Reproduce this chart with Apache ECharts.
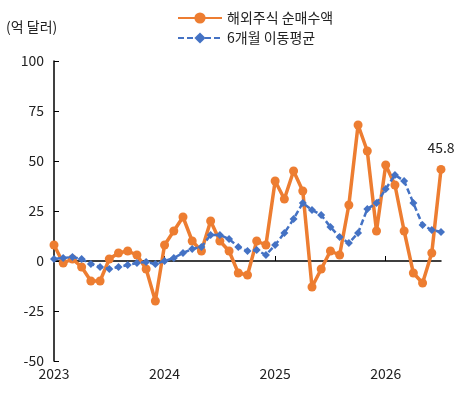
<!DOCTYPE html>
<html><head><meta charset="utf-8">
<script src="https://cdn.jsdelivr.net/npm/echarts@6/dist/echarts.min.js"></script>
<style>body{margin:0}#c{width:473px;height:402px}</style>
</head><body><div id="c"></div>
<script>
var years = ["2023", "2024", "2025", "2026"];
var months = [];
for (var i = 0; i < 43; i++) months.push((2023 + Math.floor(i / 12)) + "-" + (i % 12 + 1));
var netBuy = [8, -1, 1, -3, -10, -10, 1, 4, 5, 3, -4, -20,
  8, 15, 22, 10, 5, 20, 10, 5, -6, -7, 10, 8,
  40, 31, 45, 35, -13, -4, 5, 3, 28, 68, 55, 15,
  48, 38, 15, -6, -11, 4, 45.8];
var movAvg = [1, 1.5, 2, 1, -1.5, -3, -4, -3, -2, -1, -0.5, -1.5,
  0, 1.5, 4, 6, 7, 13, 13, 11, 7, 5, 5.5, 3,
  8, 14, 21, 29, 25.5, 23, 17, 12, 9, 14, 26, 29,
  36, 43, 40, 29, 18, 15.5, 14.5];
var fnt = "Noto Sans CJK KR";
var yearTick = function (i) { return i % 12 === 0; };

var chart = echarts.init(document.getElementById('c'));
chart.setOption({
  animation: false,
  textStyle: { fontFamily: fnt },
  legend: {
    orient: 'vertical', left: 172, top: 6, itemGap: 6, itemWidth: 44,
    textStyle: { fontSize: 14, color: '#222', fontFamily: fnt },
    data: ['해외주식 순매수액', '6개월 이동평균']
  },
  graphic: [{ type: 'text', left: 6, top: 20, style: { text: '(억 달러)', fontSize: 14, fill: '#222', fontFamily: fnt } }],
  grid: { left: 54, right: 32, top: 61, bottom: 41 },
  xAxis: [{
    type: 'category', data: months, boundaryGap: false,
    axisLine: { onZero: true, lineStyle: { color: '#000', width: 1.5 } },
    axisTick: { interval: yearTick, length: 5, inside: true, lineStyle: { color: '#000' } },
    axisLabel: { show: false }
  }, {
    type: 'category', data: months, boundaryGap: false, position: 'bottom',
    axisLine: { show: false }, axisTick: { show: false },
    axisLabel: { interval: yearTick, fontSize: 14, color: '#222', margin: 6,
      formatter: function (v) { return v.split('-')[0]; } }
  }],
  yAxis: {
    type: 'value', min: -50, max: 100, interval: 25,
    axisLine: { show: true, lineStyle: { color: '#000', width: 1.5 } },
    axisTick: { show: true, inside: true, length: 5, lineStyle: { color: '#000' } },
    splitLine: { show: false },
    axisLabel: { fontSize: 14, color: '#222', margin: 10 }
  },
  series: [{
    name: '해외주식 순매수액', type: 'line', data: netBuy, xAxisIndex: 0,
    symbol: 'circle', symbolSize: 9, showAllSymbol: true, z: 3,
    lineStyle: { color: '#ED7D31', width: 3.5 }, itemStyle: { color: '#ED7D31' },
    label: { show: true, position: 'top', fontSize: 14, color: '#222', distance: 10,
      formatter: function (p) { return p.dataIndex === netBuy.length - 1 ? '45.8' : ''; } }
  }, {
    name: '6개월 이동평균', type: 'line', data: movAvg, xAxisIndex: 0,
    symbol: 'diamond', symbolSize: 8, showAllSymbol: true, z: 4,
    lineStyle: { color: '#4472C4', width: 2.5, type: [6, 3] }, itemStyle: { color: '#4472C4' }
  }]
});
</script></body></html>
